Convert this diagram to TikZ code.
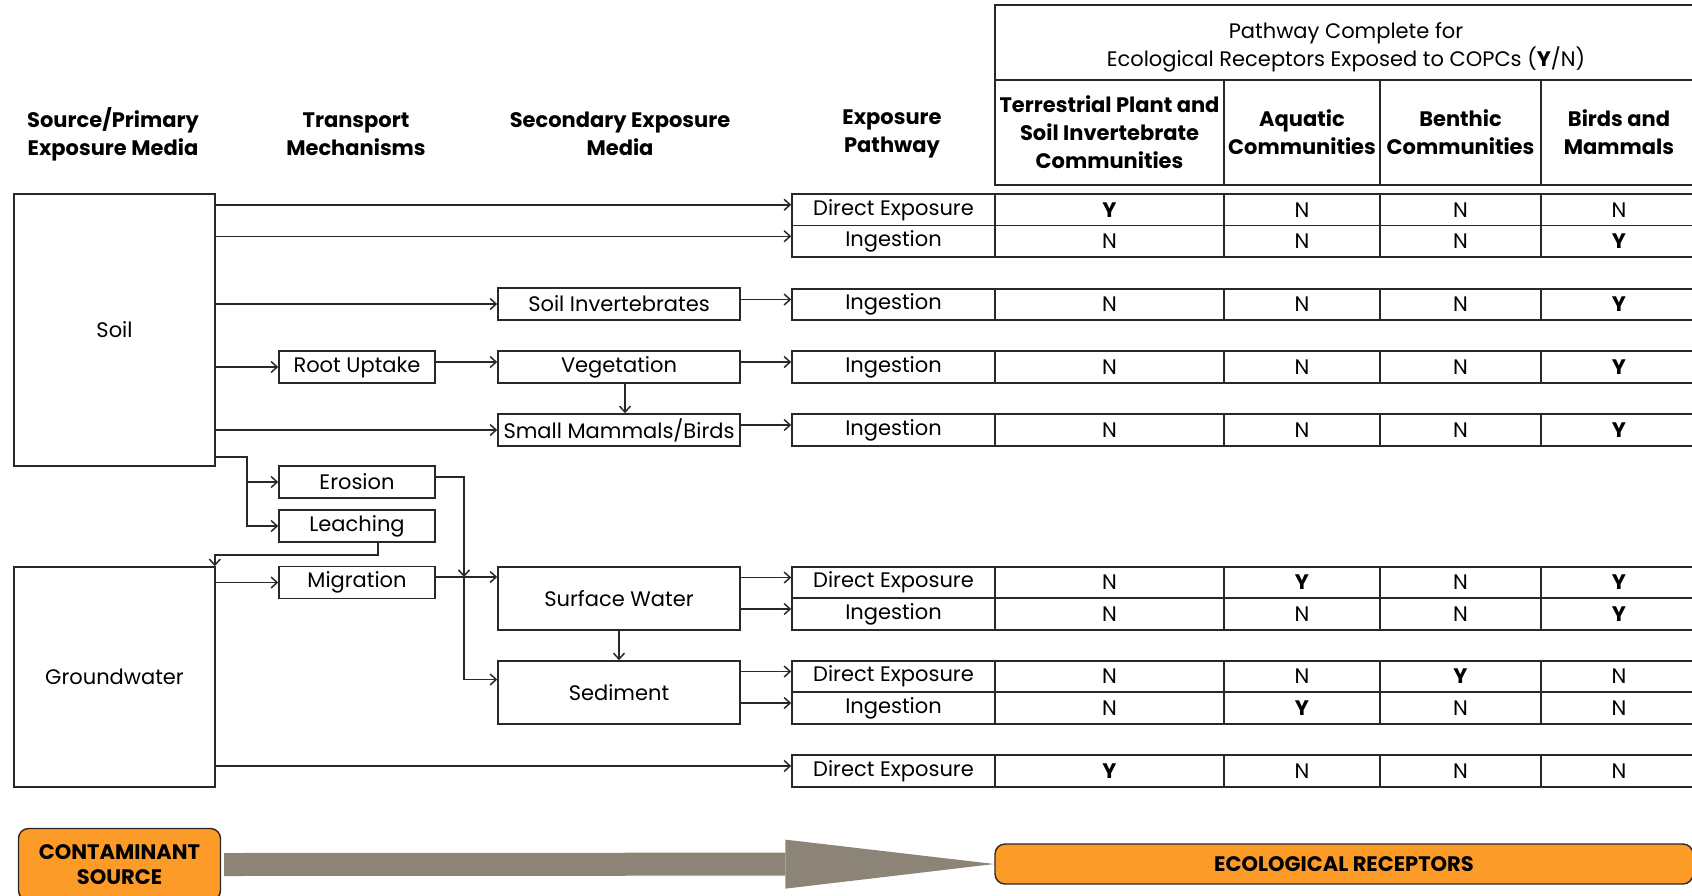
\documentclass[tikz,border=0pt]{standalone}
\usepackage{fontspec}
\setmainfont{Poppins}
\usetikzlibrary{arrows.meta}

\definecolor{srcorange}{RGB}{252,155,40}
\definecolor{flowgray}{RGB}{140,132,118}
\definecolor{edgegray}{RGB}{40,40,40}
\newcommand{\yes}{\textbf{Y}}

\begin{document}
\begin{tikzpicture}[x=1pt, y=-1pt,
  font=\fontsize{21}{28}\selectfont,
  box/.style={draw=edgegray, line width=1.6pt, inner sep=0pt, align=center},
  cell/.style={box, minimum height=31.5pt},
  mech/.style={box, minimum width=156pt, minimum height=32pt},
  media/.style={box, minimum width=242pt, minimum height=32pt},
  head/.style={align=center, font=\bfseries\fontsize{21}{28}\selectfont},
  link/.style={draw=edgegray, line width=1.5pt, -{Straight Barb[length=6pt, width=11pt]}},
  badge/.style={draw=edgegray, line width=1.4pt, fill=srcorange, rounded corners=10pt,
    align=center, inner sep=0pt, font=\bfseries\fontsize{21}{25}\selectfont}]
  \useasboundingbox (0,0) rectangle (1692,895);

  \node[head] (hsrc) at (113,134) {Source/Primary\\Exposure Media};
  \node[head] (htr) at (356,134) {Transport\\Mechanisms};
  \node[head] (hsec) at (620,134) {Secondary Exposure\\Media};
  \node[head] (hpw) at (892,134) {Exposure\\Pathway};

  \node[box, minimum width=702pt, minimum height=75pt] (hrec) at (1346,42.5)
    {\rule{0pt}{25pt}Pathway Complete for\\Ecological Receptors Exposed to COPCs (\textbf{Y}/N)};
  \node[box, head, minimum width=229pt, minimum height=105pt] (hc1) at (1109.5,132.5)
    {Terrestrial Plant and\\Soil Invertebrate\\Communities};
  \node[box, head, minimum width=156pt, minimum height=105pt] (hc2) at (1302,132.5) {Aquatic\\Communities};
  \node[box, head, minimum width=161pt, minimum height=105pt] (hc3) at (1460.5,132.5) {Benthic\\Communities};
  \node[box, head, minimum width=156pt, minimum height=105pt] (hc4) at (1619,132.5) {Birds and\\Mammals};

  \node[box, minimum width=201pt, minimum height=272pt] (soil) at (114.5,330) {Soil};
  \node[box, minimum width=201pt, minimum height=220pt] (gw) at (114.5,677) {Groundwater};

  \node[mech] (root) at (357,367) {Root Uptake};
  \node[mech] (erosion) at (357,482) {Erosion};
  \node[mech] (leach) at (357,526) {Leaching};
  \node[mech] (migr) at (357,582.5) {Migration};

  \node[media] (sinv) at (619,304) {Soil Invertebrates};
  \node[media] (veg) at (619,367) {Vegetation};
  \node[media] (smb) at (619,430) {Small Mammals/Birds};
  \node[media, minimum height=63pt] (sw) at (619,598.5) {Surface Water};
  \node[media, minimum height=63pt] (sed) at (619,692.5) {Sediment};

  \foreach \i/\y/\pw/\ca/\cb/\cc/\cd in {
      1/209.75/Direct Exposure/\yes/N/N/N,
      2/241.25/Ingestion/N/N/N/\yes,
      3/304.5/Ingestion/N/N/N/\yes,
      4/367/Ingestion/N/N/N/\yes,
      5/430/Ingestion/N/N/N/\yes,
      6/582.5/Direct Exposure/N/\yes/N/\yes,
      7/614/Ingestion/N/N/N/\yes,
      8/676.5/Direct Exposure/N/N/\yes/N,
      9/708/Ingestion/N/\yes/N/N,
      10/771/Direct Exposure/\yes/N/N/N}{
    \node[cell, minimum width=203pt] (pw\i) at (893.5,\y) {\pw};
    \node[cell, minimum width=229pt] (ca\i) at (1109.5,\y) {\ca};
    \node[cell, minimum width=156pt] (cb\i) at (1302,\y) {\cb};
    \node[cell, minimum width=161pt] (cc\i) at (1460.5,\y) {\cc};
    \node[cell, minimum width=156pt] (cd\i) at (1619,\y) {\cd};
    \coordinate (in\i) at ([yshift=5pt]pw\i.west);
  }

  \draw[link] (soil.east |- in1) -- (in1);
  \draw[link] (soil.east |- in2) -- (in2);
  \draw[link] (soil.east |- sinv.west) -- (sinv.west);
  \draw[link] (soil.east |- root.west) -- (root.west);
  \draw[link] (soil.east |- smb.west) -- (smb.west);
  \draw[link] ([yshift=5pt]root.east) -- ([yshift=5pt]veg.west);
  \draw[link] ([xshift=6pt]veg.south) -- ([xshift=6pt]smb.north);
  \draw[link] (sinv.east |- in3) -- (in3);
  \draw[link] (veg.east |- in4) -- (in4);
  \draw[link] (smb.east |- in5) -- (in5);

  \draw[link] ([yshift=10pt]soil.south east) -| ([xshift=-31pt]erosion.west) -- (erosion.west);
  \draw[link] ([xshift=-31pt]erosion.west) |- (leach.west);
  \draw[link] ([xshift=21pt]leach.south) -- ++(0,12) -| ([xshift=-1pt]gw.north east);
  \draw[link] (gw.east |- migr.west) -- (migr.west);

  \coordinate (jn) at (464,577);
  \draw[link] ([yshift=5pt]erosion.east) -| (jn);
  \draw[link] (migr.east |- jn) -- (sw.west |- jn);
  \draw[link] (jn) |- ([yshift=13pt]sed.west);
  \draw[link] (sw.south) -- (sed.north);
  \draw[link] (sw.east |- in6) -- (in6);
  \draw[link] (sw.east |- in7) -- (in7);
  \draw[link] (sed.east |- in8) -- (in8);
  \draw[link] (sed.east |- in9) -- (in9);
  \draw[link] (gw.east |- in10) -- (in10);

  \node[badge, minimum width=202pt, minimum height=72pt] (src) at (119.5,864.5) {CONTAMINANT\\SOURCE};
  \node[badge, minimum width=698pt, minimum height=40pt] (eco) at (1344,864) {ECOLOGICAL RECEPTORS};
  \draw[flowgray, line width=23pt, shorten <=3pt,
    -{Triangle[length=209pt, width=49pt, line width=0pt]}] (src.east) -- (eco.west);
\end{tikzpicture}
\end{document}
